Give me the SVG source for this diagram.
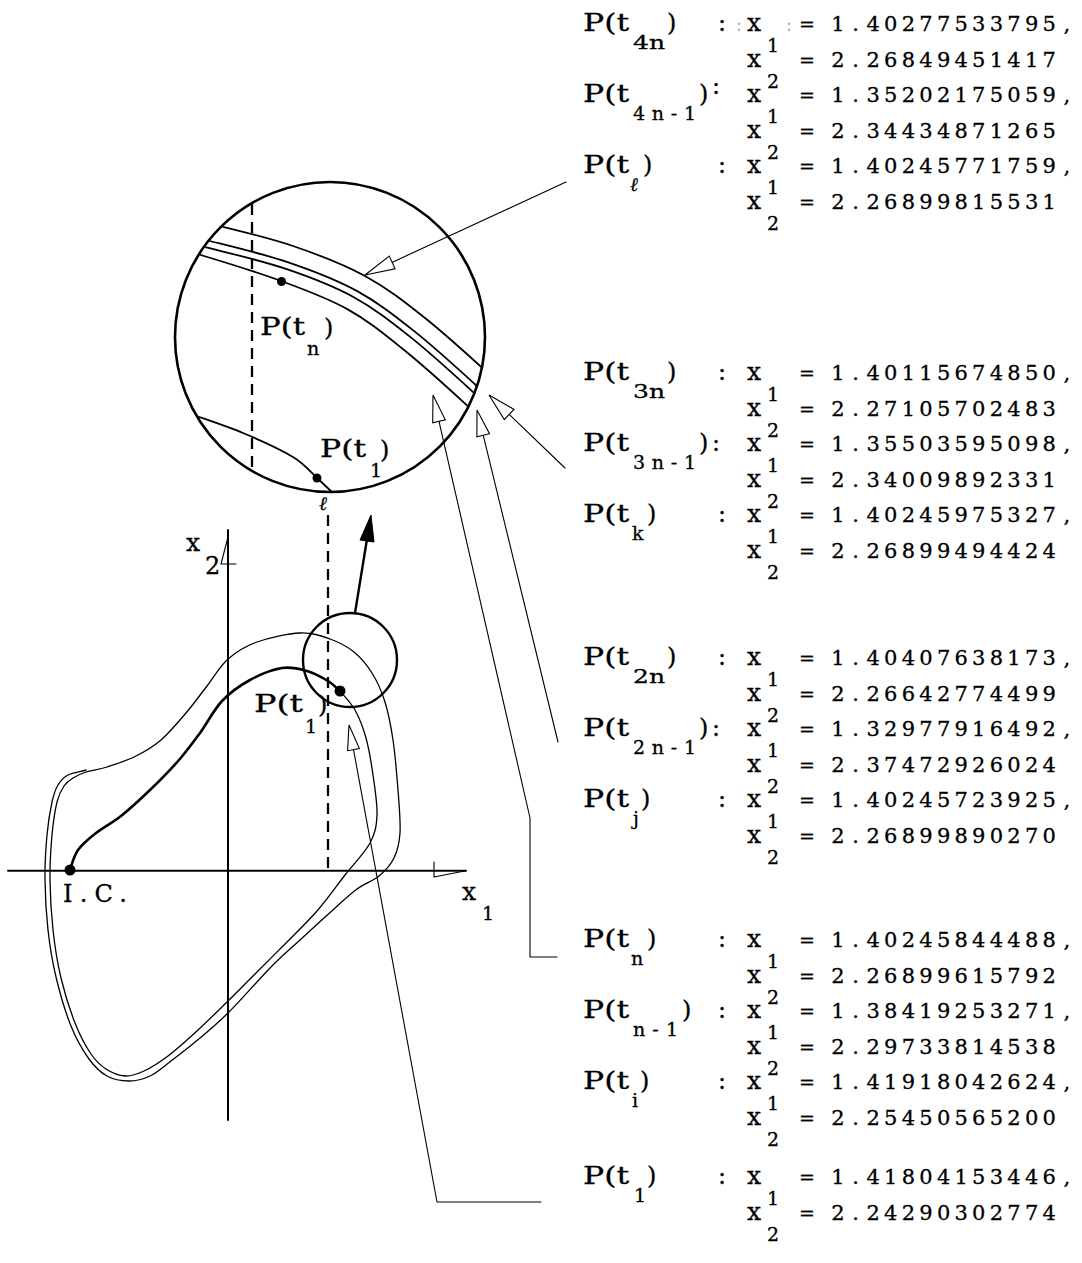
<svg xmlns="http://www.w3.org/2000/svg" width="1082" height="1263" viewBox="0 0 1082 1263">
  <style>
    text { font-family: "DejaVu Serif", "Liberation Serif", serif; fill: #000; stroke: #000; stroke-width: 0.3; }
    .lb { font-size: 24px; }
    .sb { font-size: 19px; }
    .xv { font-size: 25px; }
    .eq { font-size: 19px; text-anchor: middle; }
    .v  { font-size: 21px; text-anchor: middle; }
    .faint { font-size: 18px; fill: #aaa; stroke: none; }
    .ln { fill: none; stroke: #000; stroke-linecap: round; stroke-linejoin: round; }
    .circ { stroke-width: 2.6; }
    .crv { stroke-width: 1.8; }
    .thin { stroke-width: 1.1; }
    .ax { stroke-width: 2; }
    .dash { stroke-width: 2.3; stroke-dasharray: 11 7; stroke-linecap: butt; }
    .open { fill: #fff; stroke: #000; stroke-width: 1.1; stroke-linejoin: miter; }
  </style>
  <defs>
    <clipPath id="lensClip">
      <circle cx="330" cy="337" r="154"/>
    </clipPath>
  </defs>
  <rect width="1082" height="1263" fill="#fff"/>

  <!-- magnified view of the neighbourhood of P(t1) -->
  <g id="lens">
    <circle class="ln circ" cx="330" cy="337" r="155"/>
    <g clip-path="url(#lensClip)">
      <path class="ln crv" d="M180,217 C190.7,219.3 193.2,219.2 212,224 S267.5,237.3 293,246 S343,264 365,276 S404.2,301.5 425,318 S474.2,360.5 490,375 S510,395 520,405"/>
      <path class="ln crv" d="M176.7,233.7 C187.1,236 189.4,235.8 207.9,240.5 S262.7,253.7 287.5,262.1 S335.6,279.3 356.8,290.9 S394.2,315.3 414.5,331.4 S463,373.3 478.6,387.6 S498.2,407.2 508,417"/>
      <path class="ln crv" d="M175.3,240.5 C185.6,242.8 187.9,242.6 206.2,247.3 S260.8,260.4 285.3,268.7 S332.6,285.6 353.4,297 S390.1,320.9 410.2,336.9 S458.4,378.6 473.9,392.8 S493.3,412.3 503,422"/>
      <path class="ln crv" d="M173.7,248.4 C183.8,250.9 186.1,250.6 204,256 S257.3,272.2 281.1,281 S326.8,297.7 346.9,308.9 S382,332.3 401.6,348 S449.4,389.2 464.6,403.2 S483.5,422.4 493,432"/>
      <path class="ln crv" d="M185,412 C204.3,419 225,425.5 243,433 S280.7,449.5 293,457 S309.8,471.5 317,478 S329.7,490 336,496"/>
    </g>
    <line class="ln dash" x1="252" y1="204" x2="252" y2="471"/>
    <circle cx="281.5" cy="281.5" r="4.5"/>
    <circle cx="317" cy="478" r="4.5"/>
    <text class="lb" x="260" y="335" textLength="45" lengthAdjust="spacingAndGlyphs">P(t</text>
    <text class="sb" x="307" y="355">n</text>
    <text class="lb" x="324" y="336">)</text>
    <text class="lb" x="320" y="457" textLength="46" lengthAdjust="spacingAndGlyphs">P(t</text>
    <text class="sb" x="370" y="477">1</text>
    <text class="lb" x="380" y="458">)</text>
    <text class="sb" x="319" y="510" font-style="italic">ℓ</text>
  </g>

  <!-- phase plane with the trajectory -->
  <g id="phase-plane">
    <line class="ln ax" x1="8" y1="870.7" x2="466" y2="870.7"/>
    <path class="ln thin" d="M434,862 L434,877 L466,870.7"/>
    <line class="ln ax" x1="228" y1="530" x2="228" y2="1120"/>
    <path class="ln thin" d="M228,537 L221,564 L236,564"/>
    <text class="xv" x="186" y="551">x</text>
    <text class="lb" x="205" y="574">2</text>
    <text class="xv" x="462" y="900">x</text>
    <text class="sb" x="482" y="920">1</text>

    <line class="ln dash" x1="328" y1="515" x2="328" y2="869"/>

    <path class="ln" stroke-width="1.3" d="M340,691 C345,697 350.7,702.2 355,710 S363,727.2 366,738 S371.2,762.2 373,775 S377.5,803.7 377,815 S375.3,833 370,843 S353.8,863.7 345,875 S327.3,899.2 317,911 S294.2,934.7 283,946 S259.2,969.8 250,979 S236.7,992.5 228,1001 S208,1020.8 198,1030 S177,1049.2 168,1056 S151.2,1067.7 144,1071 S131.3,1076.3 125,1076 S111.7,1072.7 106,1069 S96.2,1061.7 91,1054 S80,1035.7 75,1023 S64.7,993.5 61,978 S54.8,946.3 53,930 S50.2,895.8 50,880 S50.8,848 52,835 S55,810.2 57,802 S61.3,790 64,786 S69.3,780.3 73,778 S80.3,773.8 86,772 S98.7,769.7 107,767 S127,760.5 136,756 S152.7,747.2 161,740 S178.3,722 186,713 S200,695 207,686 S219.7,666.3 228,659 S245,646.3 257,642 S287.8,633.5 300,633 S321,635.8 330,639 S347,646.3 354,652 S366.8,664.7 372,673 S381.5,690.8 385,702 S390.8,725.3 393,740 S396.8,774.5 398,790 S400.7,821.7 400,833 S397.5,850.8 394,858 S385.2,870.8 379,876 S364.5,883.5 357,889 S343.5,900.5 334,909 S310.5,930.3 300,940 S282.8,955 271,967 S240.8,1000.2 229,1012 S209.7,1029.8 200,1038 S179.3,1054.7 171,1061 S157,1072.7 150,1076 S136.2,1081 129,1081 S113.7,1079.7 107,1076 S95,1067.3 89,1059 S76.5,1039.7 71,1026 S59.8,993 56,977 S49.8,946.2 48,930 S45.2,895.8 45,880 S45.8,848 47,835 S50.2,810.3 52,802 S55.3,789.5 58,785 S63.3,777.5 68,775 S80,771.7 86,770"/>
    <path class="ln" stroke-width="2.6" d="M70,870 C72,864 73.7,856.2 78,850 S88.8,838.7 96,833 S112,823.2 121,816 S140.3,799.3 150,790 S170.7,769.5 179,760 S192.8,742.8 200,733 S213.7,709.8 222,701 S240,685.5 250,680 S272.5,669.5 282,668 S299.3,668.8 307,671 S322.5,677.7 328,681 S336,687.7 340,691"/>

    <circle class="ln" stroke-width="2.4" cx="350" cy="660" r="47"/>
    <line class="ln" stroke-width="2.4" x1="355" y1="613" x2="367" y2="539"/>
    <polygon points="371,515 374,542 360,540" fill="#000" stroke="#000" stroke-width="1"/>

    <circle cx="70" cy="870" r="5.5"/>
    <circle cx="340" cy="691" r="5.5"/>
    <text class="lb" x="63" y="902" textLength="64" lengthAdjust="spacing">I.C.</text>
    <text class="lb" x="254" y="712" textLength="49" lengthAdjust="spacingAndGlyphs">P(t</text>
    <text class="sb" x="305" y="733">1</text>
    <text class="lb" x="318" y="713">)</text>
  </g>

  <!-- leader lines from the value tables -->
  <g id="connectors">
    <line class="ln thin" x1="566" y1="182" x2="392" y2="262.4"/>
    <polygon class="open" points="365,275 395.1,268.8 389.3,256.1"/>
    <line class="ln thin" x1="565" y1="468" x2="509.2" y2="414.4"/>
    <polygon class="open" points="489,395 504.3,419.5 514,409.4"/>
    <line class="ln thin" x1="558" y1="742" x2="483.2" y2="435.2"/>
    <polygon class="open" points="477,410 476.9,436.7 489.5,433.7"/>
    <polyline class="ln thin" points="557,957 530,957 530,818 439,421.3"/>
    <polygon class="open" points="433,395 432.7,422.8 445.3,419.8"/>
    <polyline class="ln thin" points="541,1202 437,1202 353.5,749.6"/>
    <polygon class="open" points="349,725 347.6,750.7 359.4,748.5"/>
  </g>

  <!-- tables of computed points -->
  <g id="table-4n" transform="translate(0,31)">
    <text class="lb" x="583" y="0" textLength="46" lengthAdjust="spacingAndGlyphs">P(t</text>
    <text class="sb" x="633" y="18" textLength="32" lengthAdjust="spacingAndGlyphs">4n</text>
    <text class="lb" x="667" y="0">)</text>
    <text class="lb" x="718" y="0">:</text>
    <text class="faint" x="736" y="0">:</text>
    <text class="xv" x="747" y="0">x</text><text class="sb" x="767" y="21">1</text>
    <text class="faint" x="786" y="0">:</text>
    <text class="eq" x="807" y="0">=</text>
    <text class="v" x="838 855.6 873.2 890.8 908.4 926 943.6 961.2 978.8 996.4 1014 1031.6 1049.2 1066.8" y="0">1.40277533795,</text>
    <text class="xv" x="747" y="35.5">x</text><text class="sb" x="767" y="56.5">2</text>
    <text class="eq" x="807" y="35.5">=</text>
    <text class="v" x="838 855.6 873.2 890.8 908.4 926 943.6 961.2 978.8 996.4 1014 1031.6 1049.2 1066.8" y="35.5">2.26849451417</text>
    <text class="lb" x="583" y="71" textLength="46" lengthAdjust="spacingAndGlyphs">P(t</text>
    <text class="sb" x="633" y="89" textLength="63" lengthAdjust="spacing">4n-1</text>
    <text class="lb" x="699" y="71">)</text>
    <text class="lb" x="712" y="63">:</text>
    <text class="xv" x="747" y="71">x</text><text class="sb" x="767" y="92">1</text>
    <text class="eq" x="807" y="71">=</text>
    <text class="v" x="838 855.6 873.2 890.8 908.4 926 943.6 961.2 978.8 996.4 1014 1031.6 1049.2 1066.8" y="71">1.35202175059,</text>
    <text class="xv" x="747" y="106.5">x</text><text class="sb" x="767" y="127.5">2</text>
    <text class="eq" x="807" y="106.5">=</text>
    <text class="v" x="838 855.6 873.2 890.8 908.4 926 943.6 961.2 978.8 996.4 1014 1031.6 1049.2 1066.8" y="106.5">2.34434871265</text>
    <text class="lb" x="583" y="142" textLength="46" lengthAdjust="spacingAndGlyphs">P(t</text>
    <text class="sb" x="630" y="160" font-style="italic">ℓ</text>
    <text class="lb" x="643" y="142">)</text>
    <text class="lb" x="718" y="142">:</text>
    <text class="xv" x="747" y="142">x</text><text class="sb" x="767" y="163">1</text>
    <text class="eq" x="807" y="142">=</text>
    <text class="v" x="838 855.6 873.2 890.8 908.4 926 943.6 961.2 978.8 996.4 1014 1031.6 1049.2 1066.8" y="142">1.40245771759,</text>
    <text class="xv" x="747" y="177.5">x</text><text class="sb" x="767" y="198.5">2</text>
    <text class="eq" x="807" y="177.5">=</text>
    <text class="v" x="838 855.6 873.2 890.8 908.4 926 943.6 961.2 978.8 996.4 1014 1031.6 1049.2 1066.8" y="177.5">2.26899815531</text>
  </g>

  <g id="table-3n" transform="translate(0,380)">
    <text class="lb" x="583" y="0" textLength="46" lengthAdjust="spacingAndGlyphs">P(t</text>
    <text class="sb" x="633" y="18" textLength="32" lengthAdjust="spacingAndGlyphs">3n</text>
    <text class="lb" x="667" y="0">)</text>
    <text class="lb" x="718" y="0">:</text>
    <text class="xv" x="747" y="0">x</text><text class="sb" x="767" y="21">1</text>
    <text class="eq" x="807" y="0">=</text>
    <text class="v" x="838 855.6 873.2 890.8 908.4 926 943.6 961.2 978.8 996.4 1014 1031.6 1049.2 1066.8" y="0">1.40115674850,</text>
    <text class="xv" x="747" y="35.5">x</text><text class="sb" x="767" y="56.5">2</text>
    <text class="eq" x="807" y="35.5">=</text>
    <text class="v" x="838 855.6 873.2 890.8 908.4 926 943.6 961.2 978.8 996.4 1014 1031.6 1049.2 1066.8" y="35.5">2.27105702483</text>
    <text class="lb" x="583" y="71" textLength="46" lengthAdjust="spacingAndGlyphs">P(t</text>
    <text class="sb" x="633" y="89" textLength="63" lengthAdjust="spacing">3n-1</text>
    <text class="lb" x="699" y="71">)</text>
    <text class="lb" x="712" y="71">:</text>
    <text class="xv" x="747" y="71">x</text><text class="sb" x="767" y="92">1</text>
    <text class="eq" x="807" y="71">=</text>
    <text class="v" x="838 855.6 873.2 890.8 908.4 926 943.6 961.2 978.8 996.4 1014 1031.6 1049.2 1066.8" y="71">1.35503595098,</text>
    <text class="xv" x="747" y="106.5">x</text><text class="sb" x="767" y="127.5">2</text>
    <text class="eq" x="807" y="106.5">=</text>
    <text class="v" x="838 855.6 873.2 890.8 908.4 926 943.6 961.2 978.8 996.4 1014 1031.6 1049.2 1066.8" y="106.5">2.34009892331</text>
    <text class="lb" x="583" y="142" textLength="46" lengthAdjust="spacingAndGlyphs">P(t</text>
    <text class="sb" x="632" y="160">k</text>
    <text class="lb" x="647" y="142">)</text>
    <text class="lb" x="718" y="142">:</text>
    <text class="xv" x="747" y="142">x</text><text class="sb" x="767" y="163">1</text>
    <text class="eq" x="807" y="142">=</text>
    <text class="v" x="838 855.6 873.2 890.8 908.4 926 943.6 961.2 978.8 996.4 1014 1031.6 1049.2 1066.8" y="142">1.40245975327,</text>
    <text class="xv" x="747" y="177.5">x</text><text class="sb" x="767" y="198.5">2</text>
    <text class="eq" x="807" y="177.5">=</text>
    <text class="v" x="838 855.6 873.2 890.8 908.4 926 943.6 961.2 978.8 996.4 1014 1031.6 1049.2 1066.8" y="177.5">2.26899494424</text>
  </g>

  <g id="table-2n" transform="translate(0,665)">
    <text class="lb" x="583" y="0" textLength="46" lengthAdjust="spacingAndGlyphs">P(t</text>
    <text class="sb" x="633" y="18" textLength="32" lengthAdjust="spacingAndGlyphs">2n</text>
    <text class="lb" x="667" y="0">)</text>
    <text class="lb" x="718" y="0">:</text>
    <text class="xv" x="747" y="0">x</text><text class="sb" x="767" y="21">1</text>
    <text class="eq" x="807" y="0">=</text>
    <text class="v" x="838 855.6 873.2 890.8 908.4 926 943.6 961.2 978.8 996.4 1014 1031.6 1049.2 1066.8" y="0">1.40407638173,</text>
    <text class="xv" x="747" y="35.5">x</text><text class="sb" x="767" y="56.5">2</text>
    <text class="eq" x="807" y="35.5">=</text>
    <text class="v" x="838 855.6 873.2 890.8 908.4 926 943.6 961.2 978.8 996.4 1014 1031.6 1049.2 1066.8" y="35.5">2.26642774499</text>
    <text class="lb" x="583" y="71" textLength="46" lengthAdjust="spacingAndGlyphs">P(t</text>
    <text class="sb" x="633" y="89" textLength="63" lengthAdjust="spacing">2n-1</text>
    <text class="lb" x="699" y="71">)</text>
    <text class="lb" x="712" y="71">:</text>
    <text class="xv" x="747" y="71">x</text><text class="sb" x="767" y="92">1</text>
    <text class="eq" x="807" y="71">=</text>
    <text class="v" x="838 855.6 873.2 890.8 908.4 926 943.6 961.2 978.8 996.4 1014 1031.6 1049.2 1066.8" y="71">1.32977916492,</text>
    <text class="xv" x="747" y="106.5">x</text><text class="sb" x="767" y="127.5">2</text>
    <text class="eq" x="807" y="106.5">=</text>
    <text class="v" x="838 855.6 873.2 890.8 908.4 926 943.6 961.2 978.8 996.4 1014 1031.6 1049.2 1066.8" y="106.5">2.37472926024</text>
    <text class="lb" x="583" y="142" textLength="46" lengthAdjust="spacingAndGlyphs">P(t</text>
    <text class="sb" x="633" y="160">j</text>
    <text class="lb" x="641" y="142">)</text>
    <text class="lb" x="718" y="142">:</text>
    <text class="xv" x="747" y="142">x</text><text class="sb" x="767" y="163">1</text>
    <text class="eq" x="807" y="142">=</text>
    <text class="v" x="838 855.6 873.2 890.8 908.4 926 943.6 961.2 978.8 996.4 1014 1031.6 1049.2 1066.8" y="142">1.40245723925,</text>
    <text class="xv" x="747" y="177.5">x</text><text class="sb" x="767" y="198.5">2</text>
    <text class="eq" x="807" y="177.5">=</text>
    <text class="v" x="838 855.6 873.2 890.8 908.4 926 943.6 961.2 978.8 996.4 1014 1031.6 1049.2 1066.8" y="177.5">2.26899890270</text>
  </g>

  <g id="table-n" transform="translate(0,947)">
    <text class="lb" x="583" y="0" textLength="46" lengthAdjust="spacingAndGlyphs">P(t</text>
    <text class="sb" x="631" y="18">n</text>
    <text class="lb" x="647" y="0">)</text>
    <text class="lb" x="718" y="0">:</text>
    <text class="xv" x="747" y="0">x</text><text class="sb" x="767" y="21">1</text>
    <text class="eq" x="807" y="0">=</text>
    <text class="v" x="838 855.6 873.2 890.8 908.4 926 943.6 961.2 978.8 996.4 1014 1031.6 1049.2 1066.8" y="0">1.40245844488,</text>
    <text class="xv" x="747" y="35.5">x</text><text class="sb" x="767" y="56.5">2</text>
    <text class="eq" x="807" y="35.5">=</text>
    <text class="v" x="838 855.6 873.2 890.8 908.4 926 943.6 961.2 978.8 996.4 1014 1031.6 1049.2 1066.8" y="35.5">2.26899615792</text>
    <text class="lb" x="583" y="71" textLength="46" lengthAdjust="spacingAndGlyphs">P(t</text>
    <text class="sb" x="633" y="89" textLength="45" lengthAdjust="spacing">n-1</text>
    <text class="lb" x="682" y="71">)</text>
    <text class="lb" x="718" y="71">:</text>
    <text class="xv" x="747" y="71">x</text><text class="sb" x="767" y="92">1</text>
    <text class="eq" x="807" y="71">=</text>
    <text class="v" x="838 855.6 873.2 890.8 908.4 926 943.6 961.2 978.8 996.4 1014 1031.6 1049.2 1066.8" y="71">1.38419253271,</text>
    <text class="xv" x="747" y="106.5">x</text><text class="sb" x="767" y="127.5">2</text>
    <text class="eq" x="807" y="106.5">=</text>
    <text class="v" x="838 855.6 873.2 890.8 908.4 926 943.6 961.2 978.8 996.4 1014 1031.6 1049.2 1066.8" y="106.5">2.29733814538</text>
    <text class="lb" x="583" y="142" textLength="46" lengthAdjust="spacingAndGlyphs">P(t</text>
    <text class="sb" x="632" y="160">i</text>
    <text class="lb" x="640" y="142">)</text>
    <text class="lb" x="718" y="142">:</text>
    <text class="xv" x="747" y="142">x</text><text class="sb" x="767" y="163">1</text>
    <text class="eq" x="807" y="142">=</text>
    <text class="v" x="838 855.6 873.2 890.8 908.4 926 943.6 961.2 978.8 996.4 1014 1031.6 1049.2 1066.8" y="142">1.41918042624,</text>
    <text class="xv" x="747" y="177.5">x</text><text class="sb" x="767" y="198.5">2</text>
    <text class="eq" x="807" y="177.5">=</text>
    <text class="v" x="838 855.6 873.2 890.8 908.4 926 943.6 961.2 978.8 996.4 1014 1031.6 1049.2 1066.8" y="177.5">2.25450565200</text>
  </g>

  <g id="table-1" transform="translate(0,1184)">
    <text class="lb" x="583" y="0" textLength="46" lengthAdjust="spacingAndGlyphs">P(t</text>
    <text class="sb" x="634" y="18">1</text>
    <text class="lb" x="647" y="0">)</text>
    <text class="lb" x="718" y="0">:</text>
    <text class="xv" x="747" y="0">x</text><text class="sb" x="767" y="21">1</text>
    <text class="eq" x="807" y="0">=</text>
    <text class="v" x="838 855.6 873.2 890.8 908.4 926 943.6 961.2 978.8 996.4 1014 1031.6 1049.2 1066.8" y="0">1.41804153446,</text>
    <text class="xv" x="747" y="35.5">x</text><text class="sb" x="767" y="56.5">2</text>
    <text class="eq" x="807" y="35.5">=</text>
    <text class="v" x="838 855.6 873.2 890.8 908.4 926 943.6 961.2 978.8 996.4 1014 1031.6 1049.2 1066.8" y="35.5">2.24290302774</text>
  </g>
</svg>
